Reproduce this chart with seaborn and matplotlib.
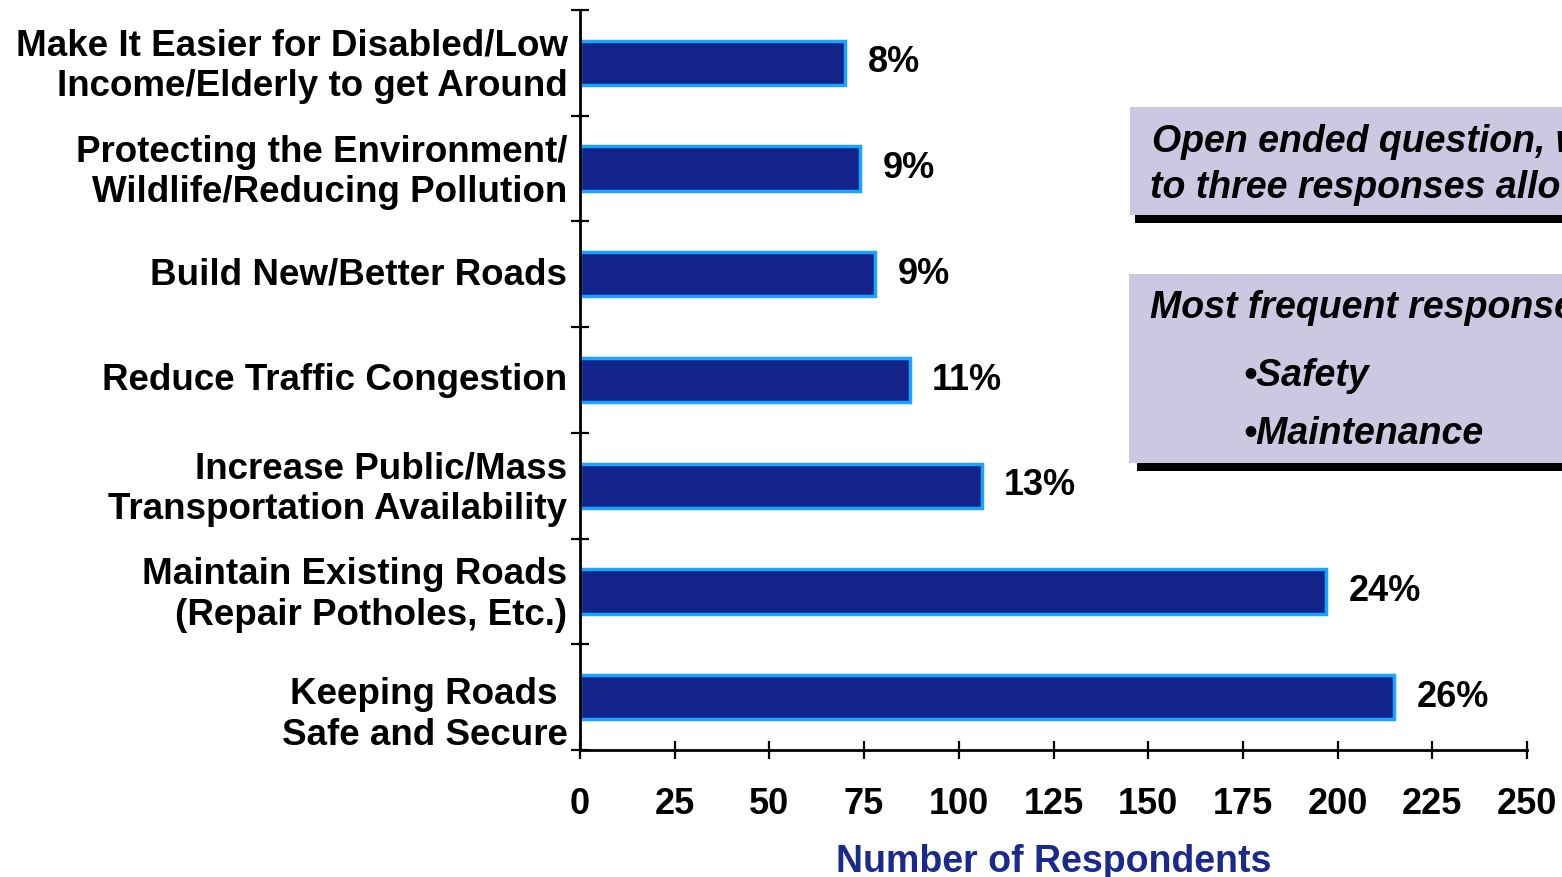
import matplotlib
matplotlib.use("Agg")
import matplotlib.pyplot as plt
import matplotlib.transforms as mtransforms
from matplotlib.patches import Rectangle
import seaborn as sns
import pandas as pd

# Survey responses: transportation priorities
categories = [
    "Make It Easier for Disabled/Low\nIncome/Elderly to get Around",
    "Protecting the Environment/\nWildlife/Reducing Pollution",
    "Build New/Better Roads",
    "Reduce Traffic Congestion",
    "Increase Public/Mass\nTransportation Availability",
    "Maintain Existing Roads\n(Repair Potholes, Etc.)",
    "Keeping Roads \nSafe and Secure",
]
respondents = [70, 74, 78, 87, 106, 197, 215]
percent_labels = ["8%", "9%", "9%", "11%", "13%", "24%", "26%"]
x_ticks = [0, 25, 50, 75, 100, 125, 150, 175, 200, 225, 250]

df = pd.DataFrame({"category": categories, "respondents": respondents})

sns.set_theme(style="white")
plt.rcParams["font.family"] = ["Liberation Sans", "DejaVu Sans"]

fig = plt.figure(figsize=(15.62, 8.77), dpi=100)
ax = fig.add_axes([580 / 1562, 1 - 750 / 877, 947 / 1562, 740 / 877])

sns.barplot(data=df, x="respondents", y="category", orient="h", ax=ax,
            color="#12238a", edgecolor="#1aa3ff", linewidth=2.5,
            width=0.42, saturation=1)

ax.set_xlim(0, 250)
ax.set_ylim(6.5, -0.5)

# spines
for side in ["top", "right"]:
    ax.spines[side].set_visible(False)
for side in ["left", "bottom"]:
    ax.spines[side].set_color("black")
    ax.spines[side].set_linewidth(2)

# x ticks
ax.set_xticks(x_ticks)
ax.set_xticklabels([str(t) for t in x_ticks])
ax.tick_params(axis="x", bottom=True, direction="inout", length=13, width=1.6,
               colors="black", pad=20, labelsize=26)
for lbl in ax.get_xticklabels():
    lbl.set_fontweight("bold")

# y ticks at category boundaries, labels centred on bars
ax.set_yticks([i - 0.5 for i in range(len(categories) + 1)])
ax.set_yticklabels([])
ax.set_yticks(range(len(categories)), minor=True)
ax.set_yticklabels(categories, minor=True)
ax.tick_params(axis="y", which="major", left=True, direction="inout",
               length=13, width=1.6, colors="black")
ax.tick_params(axis="y", which="minor", left=True, length=0, pad=9,
               labelsize=26.5)
for i, lbl in enumerate(ax.get_yticklabels(minor=True)):
    lbl.set_fontweight("bold")
    lbl.set_color("black")
    lbl.set_linespacing(1.2)
    shift = -0.11 if i == len(categories) - 1 else 0.03
    lbl.set_transform(lbl.get_transform() + mtransforms.ScaledTranslation(
        0, shift, fig.dpi_scale_trans))

ax.set_ylabel("")
ax.set_xlabel("Number of Respondents", fontsize=27, fontweight="bold",
              color="#1a2a8c", labelpad=16)

# value labels
for i, (v, pl) in enumerate(zip(respondents, percent_labels)):
    ax.annotate(pl, xy=(v, i), xytext=(16, 0), textcoords="offset points",
                ha="left", va="center", fontsize=26, fontweight="bold",
                color="black")

# annotation boxes on the right
def fig_rect(x0, y0, x1, y1, color):
    fig.patches.append(Rectangle((x0 / 1562, 1 - y1 / 877),
                                 (x1 - x0) / 1562, (y1 - y0) / 877,
                                 transform=fig.transFigure, facecolor=color,
                                 edgecolor="none", zorder=0))

fig_rect(1135, 212, 1600, 223, "black")
fig_rect(1130, 107, 1600, 215, "#cbc8e2")
fig_rect(1137, 460, 1600, 471, "black")
fig_rect(1129, 274, 1600, 463, "#cbc8e2")

txt_kw = dict(fontsize=27, fontweight="bold", fontstyle="italic",
              color="black", ha="left", va="center")
fig.text(1152 / 1562, 1 - 142 / 877, "Open ended question, with up", **txt_kw)
fig.text(1150 / 1562, 1 - 188 / 877, "to three responses allowed", **txt_kw)
fig.text(1150 / 1562, 1 - 308 / 877, "Most frequent responses:", **txt_kw)
fig.text(1243 / 1562, 1 - 376 / 877, "\u2022Safety", **txt_kw)
fig.text(1243 / 1562, 1 - 434 / 877, "\u2022Maintenance", **txt_kw)

fig.savefig("out.png", dpi=100)
